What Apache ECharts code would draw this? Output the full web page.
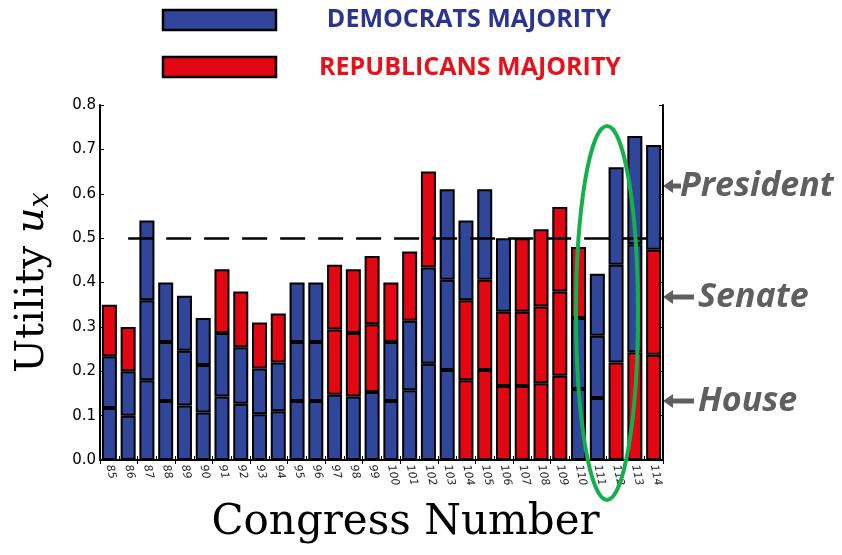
<!DOCTYPE html>
<html>
<head>
<meta charset="utf-8">
<script src="https://cdn.jsdelivr.net/npm/echarts@6/dist/echarts.min.js"></script>
<style>
  html, body { margin: 0; background: #fff; }
  #chart { width: 842px; height: 555px; }
</style>
</head>
<body>
<div id="chart"></div>
<script>
// congress numbers on the x axis
var congresses = ['85', '86', '87', '88', '89', '90', '91', '92', '93', '94',
  '95', '96', '97', '98', '99', '100', '101', '102', '103', '104',
  '105', '106', '107', '108', '109', '110', '111', '112', '113', '114'];

// utility contributed by each branch (stacked: house, senate, president)
var houseU = [0.117, 0.100, 0.180, 0.133, 0.123, 0.107, 0.143, 0.127, 0.103, 0.110,
  0.133, 0.133, 0.147, 0.143, 0.153, 0.133, 0.157, 0.217, 0.203, 0.180,
  0.203, 0.167, 0.167, 0.173, 0.190, 0.160, 0.140, 0.220, 0.243, 0.237];
var senateU = [0.117, 0.100, 0.180, 0.133, 0.123, 0.107, 0.143, 0.127, 0.103, 0.110,
  0.133, 0.133, 0.147, 0.143, 0.153, 0.133, 0.157, 0.217, 0.203, 0.180,
  0.203, 0.167, 0.167, 0.173, 0.190, 0.160, 0.140, 0.220, 0.243, 0.237];
var presidentU = [0.116, 0.100, 0.180, 0.134, 0.124, 0.106, 0.144, 0.126, 0.104, 0.110,
  0.134, 0.134, 0.146, 0.144, 0.154, 0.134, 0.156, 0.216, 0.204, 0.180,
  0.204, 0.166, 0.166, 0.174, 0.190, 0.160, 0.140, 0.220, 0.244, 0.236];

// majority party of each branch: D = democrats, R = republicans
var houseParty = ['D', 'D', 'D', 'D', 'D', 'D', 'D', 'D', 'D', 'D',
  'D', 'D', 'D', 'D', 'D', 'D', 'D', 'D', 'D', 'R',
  'R', 'R', 'R', 'R', 'R', 'D', 'D', 'R', 'R', 'R'];
var senateParty = ['D', 'D', 'D', 'D', 'D', 'D', 'D', 'D', 'D', 'D',
  'D', 'D', 'R', 'R', 'R', 'D', 'D', 'D', 'D', 'R',
  'R', 'R', 'R', 'R', 'R', 'D', 'D', 'D', 'D', 'R'];
var presidentParty = ['R', 'R', 'D', 'D', 'D', 'D', 'R', 'R', 'R', 'R',
  'D', 'D', 'R', 'R', 'R', 'R', 'R', 'R', 'D', 'D',
  'D', 'D', 'R', 'R', 'R', 'R', 'D', 'D', 'D', 'D'];

var yTicks = ['0.0', '0.1', '0.2', '0.3', '0.4', '0.5', '0.6', '0.7', '0.8'];

var BLUE = '#2f469b';
var RED = '#e30613';

function segments(vals, party) {
  return vals.map(function (v, i) {
    return { value: v, itemStyle: { color: party[i] === 'D' ? BLUE : RED } };
  });
}

function barSeries(name, vals, party) {
  return {
    name: name,
    type: 'bar',
    stack: 'u',
    barCategoryGap: '20%',
    itemStyle: { borderColor: '#000', borderWidth: 2 },
    data: segments(vals, party)
  };
}

var chart = echarts.init(document.getElementById('chart'));

var series = [
  barSeries('House', houseU, houseParty),
  barSeries('Senate', senateU, senateParty),
  barSeries('President', presidentU, presidentParty)
];
// dashed 0.5 reference line, drawn over the bars
series[2].markLine = {
  silent: true,
  symbol: 'none',
  z: 5,
  label: { show: false },
  lineStyle: { color: '#000', width: 2.5, type: [25, 13] },
  data: [[{ coord: ['86', 0.5] }, { x: 663, coord: ['114', 0.5] }]]
};

var axisLineStyle = { show: true, lineStyle: { color: '#000', width: 2 } };
var tickStyle = { show: true, inside: true, length: 4, lineStyle: { color: '#000', width: 1 } };
var noteStyle = { fill: '#5f5f5f', fontFamily: 'Open Sans', fontWeight: 'bold',
  fontStyle: 'italic', fontSize: 34, verticalAlign: 'middle' };

var option = {
  animation: false,
  grid: { left: 100, right: 179, top: 105, bottom: 95 },
  xAxis: [{
    type: 'category',
    data: congresses,
    axisLine: axisLineStyle,
    axisTick: tickStyle,
    axisLabel: {
      interval: 0, rotate: -78, margin: 5,
      fontSize: 11, fontStyle: 'italic', color: '#222', fontFamily: 'DejaVu Sans'
    },
    name: 'Congress Number',
    nameLocation: 'middle',
    nameGap: 42,
    nameTextStyle: { fontFamily: 'DejaVu Serif', fontSize: 42, color: '#000', padding: [0, 0, 0, 48] }
  }, {
    type: 'category',
    data: congresses,
    position: 'top',
    axisLine: axisLineStyle,
    axisTick: tickStyle,
    axisLabel: { show: false }
  }],
  yAxis: [{
    type: 'value',
    min: 0, max: 0.8, interval: 0.1,
    axisLine: axisLineStyle,
    axisTick: tickStyle,
    splitLine: { show: false },
    axisLabel: {
      margin: 4, fontSize: 15, color: '#000', fontFamily: 'DejaVu Sans',
      formatter: function (v) { return yTicks[Math.round(v * 10)]; }
    },
    name: '{a|Utility }{b|u}{c|x}',
    nameLocation: 'middle',
    nameGap: 46,
    nameTextStyle: {
      rich: {
        a: { fontFamily: 'DejaVu Serif', fontSize: 40, color: '#000' },
        b: { fontFamily: 'DejaVu Serif', fontStyle: 'italic', fontSize: 40, color: '#000' },
        c: { fontFamily: 'DejaVu Serif', fontStyle: 'italic', fontSize: 27, color: '#000', padding: [15, 0, 0, 0] }
      }
    }
  }, {
    type: 'value',
    position: 'right',
    min: 0, max: 0.8, interval: 0.1,
    axisLine: axisLineStyle,
    axisTick: tickStyle,
    splitLine: { show: false },
    axisLabel: { show: false }
  }],
  series: series,
  graphic: [
    // legend swatches
    { type: 'rect', shape: { x: 163, y: 10, width: 113, height: 20 },
      style: { fill: BLUE, stroke: '#000', lineWidth: 2.5 } },
    { type: 'rect', shape: { x: 163, y: 57, width: 113, height: 20 },
      style: { fill: RED, stroke: '#000', lineWidth: 2.5 } },
    { type: 'text', x: 469, y: 20,
      style: { text: 'DEMOCRATS MAJORITY', fill: '#2b3590', fontFamily: 'Open Sans',
        fontWeight: 'bold', fontSize: 25, align: 'center', verticalAlign: 'middle' } },
    { type: 'text', x: 470, y: 68,
      style: { text: 'REPUBLICANS MAJORITY', fill: '#e8101a', fontFamily: 'Open Sans',
        fontWeight: 'bold', fontSize: 25, align: 'center', verticalAlign: 'middle' } },
    // branch annotations
    { type: 'line', shape: { x1: 668, y1: 186, x2: 681, y2: 186 },
      style: { stroke: '#5f5f5f', lineWidth: 5 } },
    { type: 'polygon', shape: { points: [[663, 186], [673, 179], [673, 193]] },
      style: { fill: '#5f5f5f' } },
    { type: 'text', x: 680, y: 186, style: Object.assign({ text: 'President' }, noteStyle) },
    { type: 'line', shape: { x1: 668, y1: 297, x2: 694, y2: 297 },
      style: { stroke: '#5f5f5f', lineWidth: 5 } },
    { type: 'polygon', shape: { points: [[663, 297], [673, 290], [673, 304]] },
      style: { fill: '#5f5f5f' } },
    { type: 'text', x: 698, y: 297, style: Object.assign({ text: 'Senate' }, noteStyle) },
    { type: 'line', shape: { x1: 668, y1: 401, x2: 694, y2: 401 },
      style: { stroke: '#5f5f5f', lineWidth: 5 } },
    { type: 'polygon', shape: { points: [[663, 401], [673, 394], [673, 408]] },
      style: { fill: '#5f5f5f' } },
    { type: 'text', x: 698, y: 401, style: Object.assign({ text: 'House' }, noteStyle) },
    // green highlight around congress 112
    { type: 'ellipse', z: 100, shape: { cx: 607, cy: 313, rx: 31, ry: 187 },
      style: { fill: 'none', stroke: '#14b04c', lineWidth: 4 } }
  ]
};

chart.setOption(option);
</script>
</body>
</html>
